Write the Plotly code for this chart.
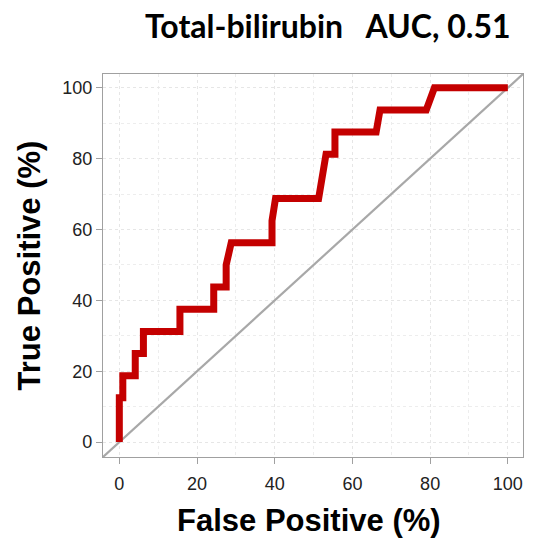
import plotly.graph_objects as go

fpr = [0, 0, 0.9, 0.9, 4.1, 4.1, 6.2, 6.2, 15.6, 15.6, 24.3, 24.3, 27.5, 27.5, 28.8,
       39.3, 39.3, 40.2, 51.3, 53.2, 55.5, 55.5, 66.1, 67.1, 79.0, 81.1, 100]
tpr = [0, 12.5, 12.5, 18.75, 18.75, 25, 25, 31.25, 31.25, 37.5, 37.5, 43.75, 43.75, 50, 56.25,
       56.25, 62.5, 68.75, 68.75, 81.25, 81.25, 87.5, 87.5, 93.75, 93.75, 100, 100]
axis_range = [-4.2, 103.9]
tick_vals = [0, 20, 40, 60, 80, 100]
title_text = "Total-bilirubin\u00a0\u00a0\u00a0AUC, 0.51"

fig = go.Figure()
fig.add_trace(go.Scatter(x=axis_range, y=axis_range, mode="lines",
                         line=dict(color="#A8A8A8", width=2.2), hoverinfo="skip"))
fig.add_trace(go.Scatter(x=fpr, y=tpr, mode="lines",
                         line=dict(color="#C40000", width=7, shape="linear")))

axis_common = dict(
    range=axis_range, tickvals=tick_vals, ticks="outside", ticklen=6, tickwidth=1,
    tickcolor="#A0A0A0", showline=True, linecolor="#A0A0A0", linewidth=1.2, mirror=True,
    showgrid=True, gridcolor="#E6E6E6", griddash="dot", gridwidth=1, zeroline=False,
    tickfont=dict(family="Liberation Sans", size=18, color="#222222"),
    minor=dict(dtick=10, tick0=0, showgrid=True, gridcolor="#EDEDED", griddash="dot", ticks=""),
)
fig.update_xaxes(**axis_common, ticklabelstandoff=4)
fig.update_yaxes(**axis_common)

fig.update_layout(
    width=540, height=541,
    margin=dict(l=103, r=17, t=74, b=84),
    plot_bgcolor="white", paper_bgcolor="white",
    showlegend=False,
    title=dict(text=title_text, x=0.607, xanchor="center", xref="container",
               y=0.95, yanchor="middle", yref="container",
               font=dict(family="Lato", size=32, color="black", weight="bold")),
    annotations=[
        dict(text="<b>True Positive (%)</b>", xref="paper", yref="paper", x=-0.174, y=0.5,
             xanchor="center", yanchor="middle", textangle=-90, showarrow=False,
             font=dict(family="Liberation Sans", size=31, color="black")),
        dict(text="<b>False Positive (%)</b>", xref="paper", yref="paper", x=0.49, y=-0.167,
             xanchor="center", yanchor="middle", showarrow=False,
             font=dict(family="Liberation Sans", size=31, color="black")),
    ],
)

fig.write_html("out.html")
